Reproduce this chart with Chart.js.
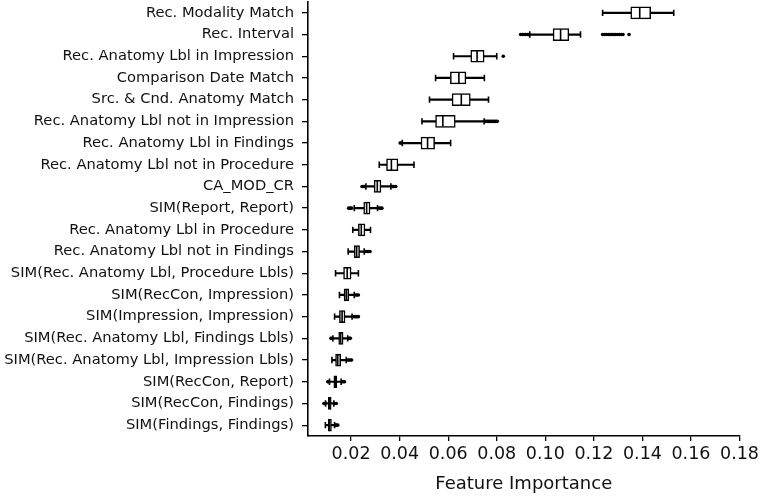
<!DOCTYPE html>
<html>
<head>
<meta charset="utf-8">
<script src="https://cdn.jsdelivr.net/npm/chart.js@4.4.0/dist/chart.umd.min.js"></script>
<style>
  html, body { margin: 0; padding: 0; background: #fff; }
</style>
</head>
<body>
<canvas id="boxChart" width="762" height="496"></canvas>
<script>
const categories = [
  "Rec. Modality Match",
  "Rec. Interval",
  "Rec. Anatomy Lbl in Impression",
  "Comparison Date Match",
  "Src. & Cnd. Anatomy Match",
  "Rec. Anatomy Lbl not in Impression",
  "Rec. Anatomy Lbl in Findings",
  "Rec. Anatomy Lbl not in Procedure",
  "CA_MOD_CR",
  "SIM(Report, Report)",
  "Rec. Anatomy Lbl in Procedure",
  "Rec. Anatomy Lbl not in Findings",
  "SIM(Rec. Anatomy Lbl, Procedure Lbls)",
  "SIM(RecCon, Impression)",
  "SIM(Impression, Impression)",
  "SIM(Rec. Anatomy Lbl, Findings Lbls)",
  "SIM(Rec. Anatomy Lbl, Impression Lbls)",
  "SIM(RecCon, Report)",
  "SIM(RecCon, Findings)",
  "SIM(Findings, Findings)",
];

const whiskerLow = [0.1236, 0.0936, 0.0622, 0.0548, 0.0523, 0.0492, 0.0411, 0.0316, 0.0261, 0.0213,
  0.0207, 0.0188, 0.0136, 0.0152, 0.0132, 0.0125, 0.0121, 0.0111, 0.0095, 0.0094];
const q1 = [0.1352, 0.1032, 0.0693, 0.0609, 0.0616, 0.0548, 0.0488, 0.0346, 0.0295, 0.0252,
  0.0230, 0.0213, 0.0169, 0.0171, 0.0152, 0.0149, 0.0136, 0.0129, 0.0106, 0.0106];
const median = [0.1389, 0.1063, 0.0719, 0.0644, 0.0654, 0.0578, 0.0515, 0.0366, 0.0308, 0.0264,
  0.0242, 0.0223, 0.0184, 0.0180, 0.0163, 0.0157, 0.0145, 0.0135, 0.0111, 0.0111];
const q3 = [0.1434, 0.1097, 0.0748, 0.0673, 0.0691, 0.0629, 0.0544, 0.0393, 0.0323, 0.0278,
  0.0257, 0.0235, 0.0200, 0.0190, 0.0175, 0.0167, 0.0157, 0.0141, 0.0118, 0.0119];
const whiskerHigh = [0.1529, 0.1145, 0.0800, 0.0749, 0.0766, 0.0748, 0.0610, 0.0459, 0.0364, 0.0309,
  0.0280, 0.0254, 0.0230, 0.0213, 0.0204, 0.0186, 0.0180, 0.0159, 0.0129, 0.0132];

const outliers = [
  [],
  [0.0898, 0.0905, 0.0912, 0.0918, 0.0925, 0.0930,
   0.1236, 0.1245, 0.1252, 0.1260, 0.1268, 0.1275, 0.1283, 0.1290, 0.1298, 0.1305, 0.1312, 0.1320, 0.1345],
  [0.0827],
  [],
  [],
  [0.0755, 0.0760, 0.0766, 0.0772, 0.0778, 0.0784, 0.0790, 0.0796, 0.0802],
  [0.0402, 0.0406],
  [],
  [0.0245, 0.0250, 0.0255, 0.0370, 0.0376, 0.0384],
  [0.0190, 0.0196, 0.0202, 0.0316, 0.0322, 0.0327],
  [],
  [0.0260, 0.0266, 0.0272, 0.0278],
  [],
  [0.0218, 0.0224, 0.0230],
  [0.0212, 0.0218, 0.0224, 0.0230],
  [0.0117, 0.0121, 0.0190, 0.0194, 0.0197],
  [0.0186, 0.0192, 0.0197, 0.0202],
  [0.0104, 0.0108, 0.0163, 0.0168, 0.0173],
  [0.0088, 0.0092, 0.0133, 0.0139],
  [0.0136, 0.0140, 0.0145],
];

const xTicks = [0.02, 0.04, 0.06, 0.08, 0.10, 0.12, 0.14, 0.16, 0.18];

// points for scatter layers
const medianPts = median.map((v, i) => ({ x: v, y: categories[i] }));
const capPts = [];
whiskerLow.forEach((v, i) => {
  capPts.push({ x: v, y: categories[i] });
  capPts.push({ x: whiskerHigh[i], y: categories[i] });
});
const outlierPts = [];
outliers.forEach((row, i) => {
  row.forEach((v) => outlierPts.push({ x: v, y: categories[i] }));
});

const ctx = document.getElementById("boxChart");

new Chart(ctx, {
  type: "bar",
  data: {
    labels: categories,
    datasets: [
      {
        type: "scatter",
        data: medianPts,
        pointStyle: "line",
        rotation: 90,
        radius: 5.5,
        borderColor: "#000",
        borderWidth: 1.6,
        order: 0,
      },
      {
        type: "scatter",
        data: capPts,
        pointStyle: "line",
        rotation: 90,
        radius: 3.2,
        borderColor: "#000",
        borderWidth: 1.6,
        order: 1,
      },
      {
        type: "scatter",
        data: outlierPts,
        pointStyle: "circle",
        radius: 1.8,
        backgroundColor: "#000",
        borderColor: "#000",
        borderWidth: 0,
        order: 1,
      },
      {
        data: q1.map((v, i) => [v, q3[i]]),
        backgroundColor: "#fff",
        borderColor: "#000",
        borderWidth: 1.5,
        borderSkipped: false,
        barThickness: 12,
        grouped: false,
        order: 2,
      },
      {
        data: whiskerLow.map((v, i) => [v, whiskerHigh[i]]),
        backgroundColor: "#000",
        borderWidth: 0,
        barThickness: 1.5,
        grouped: false,
        order: 3,
      },
    ],
  },
  options: {
    indexAxis: "y",
    responsive: false,
    animation: false,
    layout: { autoPadding: false, padding: { top: 2, right: 19, left: 0, bottom: 0 } },
    plugins: {
      legend: { display: false },
      tooltip: { enabled: false },
    },
    scales: {
      x: {
        type: "linear",
        min: 0.00225,
        max: 0.18,
        afterBuildTicks: (scale) => {
          scale.ticks = xTicks.map((v) => ({ value: v }));
        },
        afterFit: (scale) => {
          scale.height = 60;
        },
        ticks: {
          color: "#111",
          font: { family: "DejaVu Sans", size: 17.5 },
          padding: 3,
          maxRotation: 0,
          callback: (v) => v.toFixed(2),
        },
        grid: { drawOnChartArea: false, drawTicks: true, tickLength: 5, color: "#000", lineWidth: 1.3 },
        border: { display: true, color: "#000", width: 1.6 },
        title: {
          display: true,
          text: "Feature Importance",
          color: "#111",
          font: { family: "DejaVu Sans", size: 18 },
          padding: { top: 0, bottom: 1 },
        },
      },
      y: {
        type: "category",
        offset: true,
        afterFit: (scale) => {
          // keep the plot flush with the top edge like the original
          scale.width = 308;
          scale.paddingTop = 0;
          scale.paddingBottom = 0;
        },
        ticks: {
          color: "#111",
          font: { family: "DejaVu Sans", size: 14.7 },
          padding: 8,
          autoSkip: false,
        },
        grid: { offset: false, drawOnChartArea: false, drawTicks: true, tickLength: 6, color: "#000", lineWidth: 1.3 },
        border: { display: true, color: "#000", width: 1.6 },
      },
    },
  },
});
</script>
</body>
</html>
